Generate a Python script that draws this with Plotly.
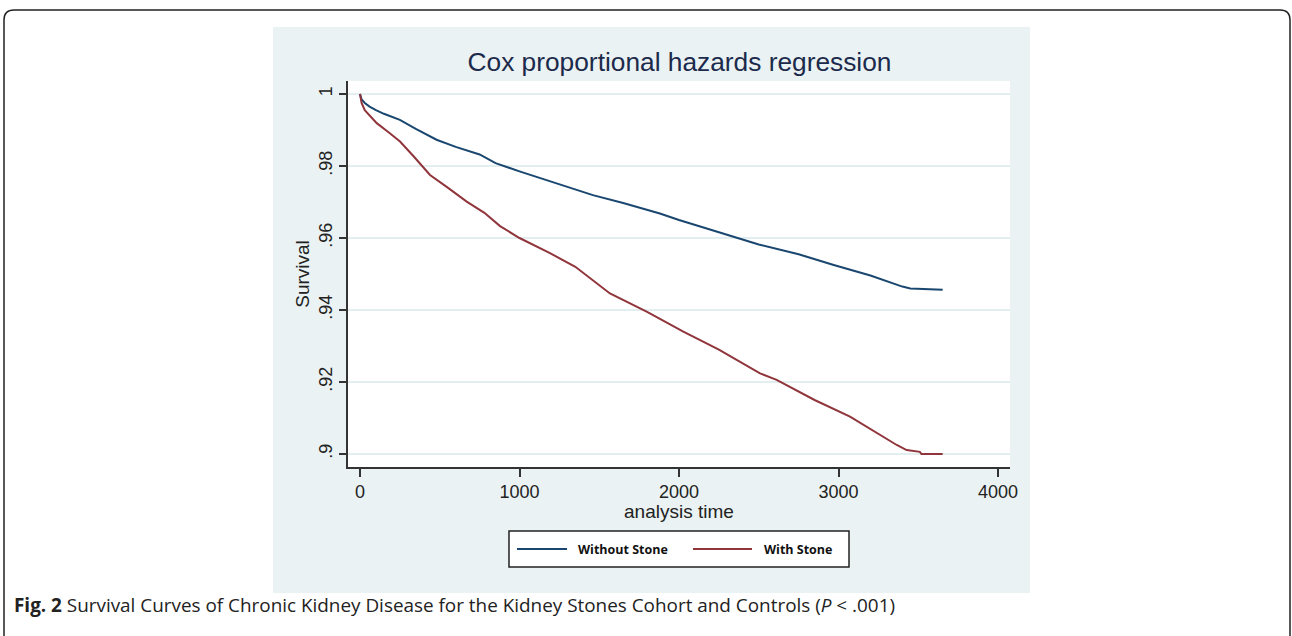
import plotly.graph_objects as go

# ---------------- data ----------------
series_names = ["Without Stone", "With Stone"]

days_without = [0, 10, 30, 60, 100, 150, 250, 350, 480, 600, 750, 794, 850, 1000,
                1130, 1250, 1460, 1650, 1880, 2000, 2250, 2500, 2750, 2970, 3200,
                3400, 3450, 3510, 3520, 3653]
surv_without = [1.0, 0.9985, 0.9975, 0.9965, 0.9955, 0.9945, 0.9928, 0.9903, 0.9873,
                0.9853, 0.9832, 0.9821, 0.9808, 0.9785, 0.9766, 0.9748, 0.9719, 0.9697,
                0.9668, 0.9650, 0.9617, 0.9582, 0.9555, 0.9525, 0.9496, 0.9465, 0.9460,
                0.9459, 0.9457, 0.9456]

days_with = [0, 10, 30, 60, 105, 175, 251, 340, 439, 550, 669, 780, 878, 1000, 1191,
             1350, 1567, 1800, 2027, 2250, 2508, 2612, 2850, 3072, 3200, 3365, 3427,
             3510, 3520, 3653]
surv_with = [1.0, 0.9975, 0.9955, 0.9940, 0.9919, 0.9895, 0.9868, 0.9825, 0.9775,
             0.9740, 0.9701, 0.9670, 0.9633, 0.9600, 0.9558, 0.9520, 0.9446, 0.9395,
             0.9340, 0.9290, 0.9224, 0.9206, 0.9150, 0.9104, 0.9070, 0.9025, 0.9011,
             0.9006, 0.9000, 0.9000]

x_ticks = [0, 1000, 2000, 3000, 4000]
y_ticks = [0.9, 0.92, 0.94, 0.96, 0.98, 1.0]
y_ticktext = [".9", ".92", ".94", ".96", ".98", "1"]

title_text = "Cox proportional hazards regression"
x_title = "analysis time"
y_title = "Survival"
caption = ("<b>Fig. 2</b> Survival Curves of Chronic Kidney Disease for the Kidney "
           "Stones Cohort and Controls (<i>P</i> < .001)")

# ---------------- styling ----------------
W, H = 1292, 636
PL, PR, PT, PB = 348, 1010, 81, 467          # plot area in pixels
NAVY = "#1a476f"
MAROON = "#90353b"
PANEL = "#eaf2f3"
GRID = "#e3eef0"
AXIS = "#333333"
TEXT = "#222222"
colors = [NAVY, MAROON]
ARIAL = "Arial, Liberation Sans"


def px(x):
    return (x - PL) / (PR - PL)


def py(y):
    return (PB - y) / (PB - PT)


fig = go.Figure()
for name, xs, ys, c in zip(series_names, [days_without, days_with],
                           [surv_without, surv_with], colors):
    fig.add_trace(go.Scatter(x=xs, y=ys, mode="lines", name=name,
                             line=dict(color=c, width=2), showlegend=False))

shapes = [
    # graph region panel
    dict(type="rect", xref="paper", yref="paper", x0=px(273), x1=px(1030),
         y0=py(593), y1=py(27), fillcolor=PANEL, line=dict(width=0), layer="below"),
    # white plot region
    dict(type="rect", xref="paper", yref="paper", x0=0, x1=1, y0=0, y1=1,
         fillcolor="white", line=dict(width=0), layer="below"),
    # outer rounded frame
    dict(type="path", xref="paper", yref="paper", layer="above",
         path=(f"M {px(4)} {py(660)} L {px(4)} {py(20)} "
               f"Q {px(4)} {py(10)} {px(14)} {py(10)} "
               f"L {px(1280)} {py(10)} Q {px(1290)} {py(10)} {px(1290)} {py(20)} "
               f"L {px(1290)} {py(660)}"),
         line=dict(color="#222222", width=1.5)),
    # legend box
    dict(type="rect", xref="paper", yref="paper", x0=px(509), x1=px(849),
         y0=py(567), y1=py(531), fillcolor="white", line=dict(color="#222222", width=1.5)),
    dict(type="line", xref="paper", yref="paper", x0=px(517), x1=px(567),
         y0=py(549), y1=py(549), line=dict(color=NAVY, width=2)),
    dict(type="line", xref="paper", yref="paper", x0=px(693), x1=px(752),
         y0=py(549), y1=py(549), line=dict(color=MAROON, width=2)),
]

annotations = [
    dict(text=series_names[0], xref="paper", yref="paper", x=px(576), y=py(549),
         xanchor="left", yanchor="middle", showarrow=False,
         font=dict(family="Open Sans", size=12.5, color="#111111", weight="bold")),
    dict(text=series_names[1], xref="paper", yref="paper", x=px(762), y=py(549),
         xanchor="left", yanchor="middle", showarrow=False,
         font=dict(family="Open Sans", size=12.5, color="#111111", weight="bold")),
    dict(text=x_title, xref="paper", yref="paper", x=px(679), y=py(511),
         xanchor="center", yanchor="middle", showarrow=False,
         font=dict(family=ARIAL, size=19, color=TEXT)),
    dict(text=caption, xref="paper", yref="paper", x=px(12), y=py(605),
         xanchor="left", yanchor="middle", showarrow=False,
         font=dict(family="Open Sans", size=18.9, color=TEXT)),
]

fig.update_layout(
    width=W, height=H, autosize=False,
    margin=dict(l=PL, r=W - PR, t=PT, b=H - PB),
    paper_bgcolor="white", plot_bgcolor="white",
    title=dict(text=title_text, x=px(679.5), xref="paper", xanchor="center",
               y=1 - 62 / H, yref="container", yanchor="middle",
               font=dict(family=ARIAL, size=26.3, color="#1c2a4c")),
    shapes=shapes, annotations=annotations,
    showlegend=False,
)

fig.update_xaxes(range=[-75.2, 4075], tickvals=x_ticks, ticks="outside", ticklen=8,
                 tickwidth=1.5, tickcolor=AXIS, showline=True, linecolor=AXIS,
                 linewidth=1.5, showgrid=False, zeroline=False,
                 tickfont=dict(family=ARIAL, size=18, color=TEXT))
fig.update_yaxes(range=[0.89639, 1.00361], tickvals=y_ticks, ticktext=y_ticktext,
                 tickangle=-90, ticks="outside", ticklen=7, tickwidth=1.5, tickcolor=AXIS,
                 showline=True, linecolor=AXIS, linewidth=1.5, showgrid=True,
                 gridcolor=GRID, gridwidth=1.5, zeroline=False,
                 tickfont=dict(family=ARIAL, size=18, color=TEXT),
                 title=dict(text=y_title, standoff=1,
                            font=dict(family=ARIAL, size=19, color=TEXT)))

fig.write_html("out.html", config={"displayModeBar": False},
               post_script="document.body.style.margin='0px';")
